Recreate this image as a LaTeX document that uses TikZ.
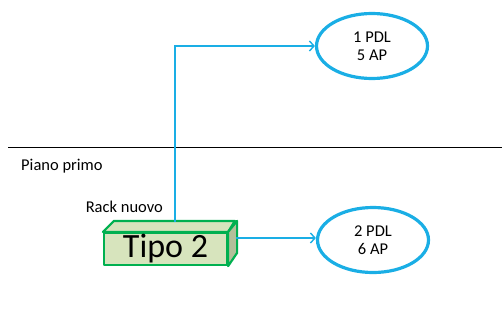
\documentclass[tikz,border=0pt]{standalone}
\usepackage{fontspec}
\setmainfont{Carlito}
\usetikzlibrary{shapes.geometric,arrows.meta}
\definecolor{skyb}{HTML}{1AAEE5}
\definecolor{boxg}{HTML}{00B050}
\definecolor{boxfill}{HTML}{D7E4BD}
\definecolor{boxside}{HTML}{B3BF9A}
\tikzset{
  pdl/.style={ellipse, draw=skyb, line width=3.2pt, minimum width=111pt, minimum height=65pt, inner sep=0pt, align=center, font=\fontsize{16.5}{18}\selectfont},
  conn/.style={draw=skyb, line width=1.6pt, -{Straight Barb[length=4.5pt,width=10pt,line width=1.4pt]}},
  lbl/.style={font=\fontsize{16.5}{18}\selectfont, inner sep=0pt},
  face/.style={draw=boxg, line width=2.2pt, line join=round}
}
\begin{document}
\begin{tikzpicture}[x=1pt,y=-1pt]
\useasboundingbox (0,0) rectangle (502,324);
% floor line
\coordinate (l1) at (8,147);
\coordinate (l2) at (502,147);
\draw[line width=1pt] (l1) -- (l2);
\node[lbl, anchor=base west] (piano) at (21,170) {Piano primo};
\node[lbl, anchor=base east] (rack) at (163,212) {Rack nuovo};
% ellipses
\node[pdl] (e1) at (372,46) {1 PDL\\5 AP};
\node[pdl] (e2) at (373,240) {2 PDL\\6 AP};
% box
\node[face, fill=boxfill, minimum width=123pt, minimum height=32pt, inner sep=0pt, font=\fontsize{34}{36}\selectfont] (box) at (165.5,249) {Tipo 2};
\draw[face, fill=boxfill] (box.north west) -- ++(11,-11) -- ++(121,0) -- (box.north east) -- cycle;
\draw[face, fill=boxside] (box.north east) -- ++(9,-11) -- ++(0,32) -- (box.south east) -- cycle;
\coordinate (top) at (175,222);
\coordinate (side) at (236,238);
% connectors
\draw[conn] (top) |- (e1.west);
\draw[conn] (side) -- (side -| e2.west);
\end{tikzpicture}
\end{document}
